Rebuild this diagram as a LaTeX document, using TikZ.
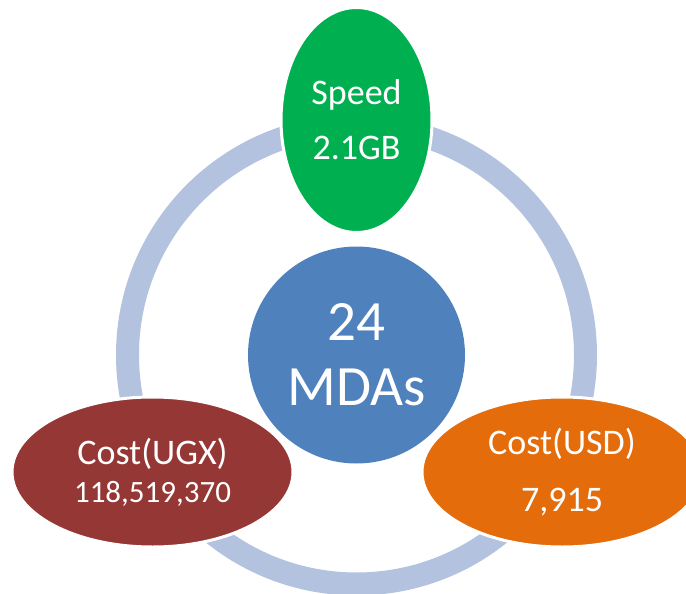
\documentclass[tikz,border=0pt]{standalone}
\usepackage{fontspec}
\setmainfont{Carlito}
\usepackage{tikz}
\usetikzlibrary{shapes.geometric, positioning}
\definecolor{ringblue}{RGB}{179, 194, 222}
\definecolor{hubblue}{RGB}{79, 129, 189}
\definecolor{speedgreen}{RGB}{0, 176, 80}
\definecolor{ugxred}{RGB}{149, 55, 53}
\definecolor{usdorange}{RGB}{228, 108, 10}
\tikzstyle{hub} = [circle, minimum size=217pt, inner sep=0pt, fill=hubblue, text=white, align=center, font=\fontsize{57}{65}\selectfont]
\tikzstyle{metric} = [ellipse, inner sep=0pt, draw=white, line width=3pt, text=white, align=center, font=\fontsize{36}{55}\selectfont]
\tikzstyle{ring} = [draw=ringblue, line width=23pt]

\begin{document}
\begin{tikzpicture}[x=1pt, y=-1pt]
    \useasboundingbox (0, 0) rectangle (686, 594);
    \clip (0, 0) rectangle (686, 594);

    % Center hub
    \node[hub] (mdas) at (356.5, 355) {24\\MDAs};

    % Ring round the hub
    \draw[ring] (mdas.center) circle (229pt);

    % Metrics on the ring
    \node[metric, fill=speedgreen, minimum width=151pt, minimum height=225pt] (speed) at (356.5, 120) {Speed\\2.1GB};

    \node[metric, fill=ugxred, minimum width=281pt, minimum height=150pt, font=\fontsize{36}{38}\selectfont] (ugx) at (152.5, 472) {
        Cost(UGX)\\{\fontsize{31}{38}\selectfont 118,519,370}
    };

    \node[metric, fill=usdorange, minimum width=280pt, minimum height=150pt, font=\fontsize{36}{57}\selectfont] (usd) at (562, 472) {Cost(USD)\\7,915};
\end{tikzpicture}
\end{document}
